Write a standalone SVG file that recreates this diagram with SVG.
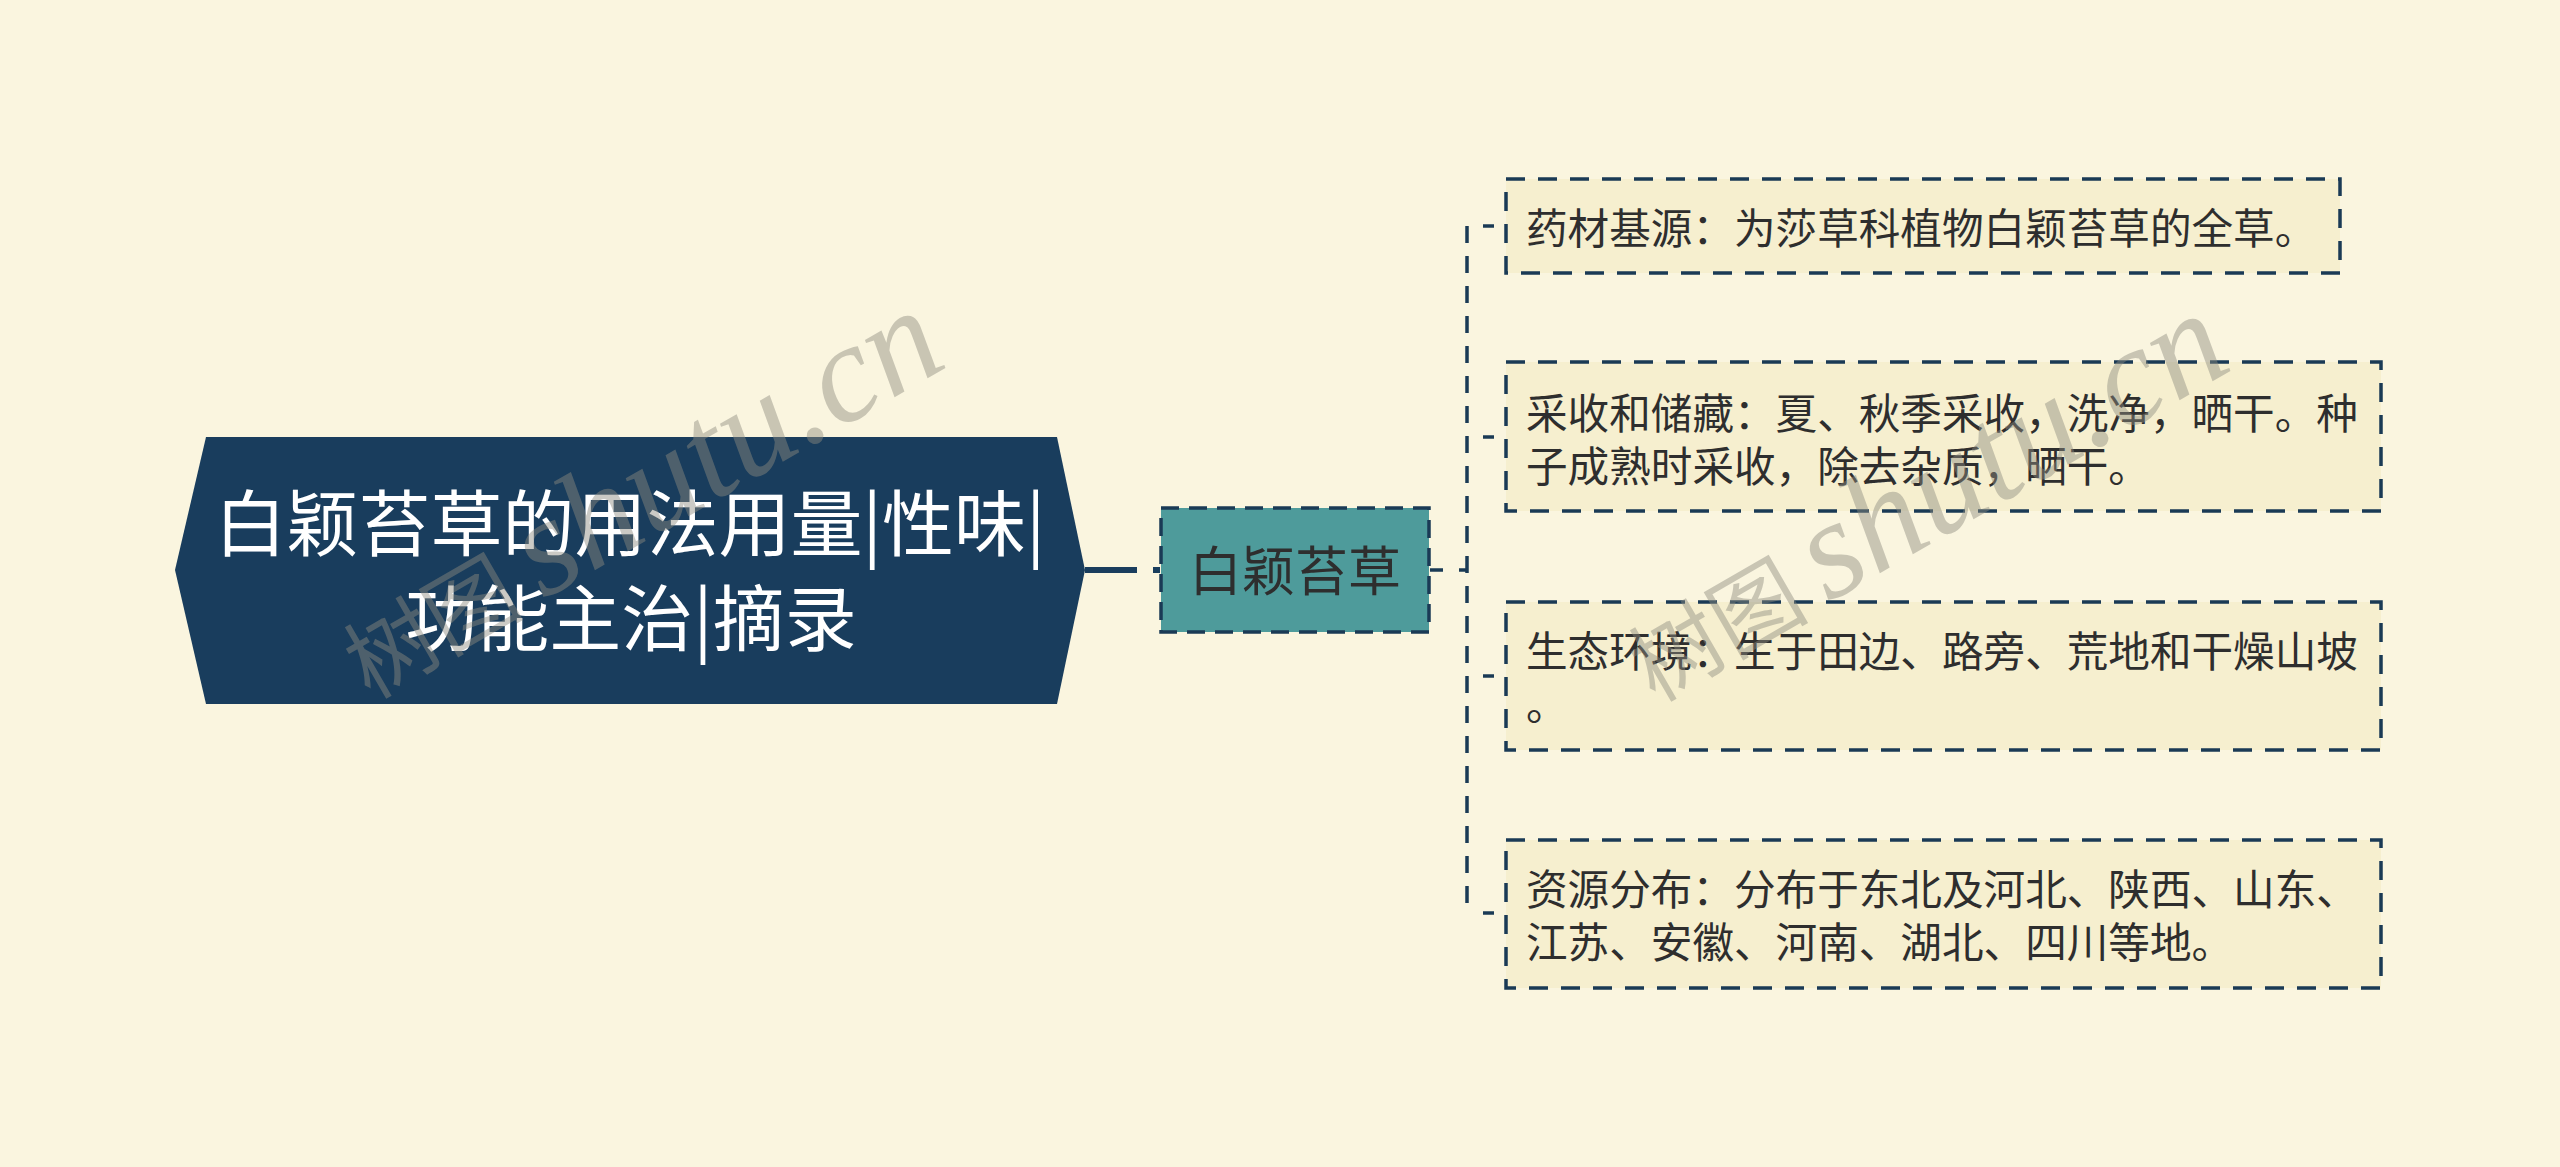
<svg xmlns="http://www.w3.org/2000/svg" width="2560" height="1167" viewBox="0 0 2560 1167">
<style>
.cjk{font-family:"Noto Sans CJK SC","Noto Sans",sans-serif}
.title{font-size:72px;fill:#FFFFFF;text-anchor:middle}
.sub{font-size:53px;fill:#2E2E2E;text-anchor:middle}
.leaf{font-size:41.6px;fill:#2E2E2E}
.box{fill:#F6EFCF;stroke:#1A3A55;stroke-width:3.5;stroke-dasharray:19 13}
.conn{fill:none;stroke:#1A3A55;stroke-width:3.5}
.wm{font-size:90px;fill:#8E8C80;opacity:0.45}
.wml{font-family:"Liberation Serif",serif;font-style:italic;font-size:140px}
</style>
<rect width="2560" height="1167" fill="#FAF5DF"/>
<g id="connectors">
<path d="M1085,570 H1160" fill="none" stroke="#193D5D" stroke-width="6" stroke-dasharray="52 16 10 100"/>
<path class="conn" d="M1430,570 H1467" stroke-dasharray="13 16"/>
<path class="conn" d="M1467,226 V913" stroke-dasharray="17 13"/>
<path class="conn" d="M1467,226 H1506" stroke-dasharray="11 28" stroke-dashoffset="23"/>
<path class="conn" d="M1467,437 H1506" stroke-dasharray="11 28" stroke-dashoffset="23"/>
<path class="conn" d="M1467,676 H1506" stroke-dasharray="11 28" stroke-dashoffset="23"/>
<path class="conn" d="M1467,913 H1506" stroke-dasharray="11 28" stroke-dashoffset="23"/>
</g>
<g id="root">
<polygon points="175,570 206,437 1057,437 1085,570 1057,704 206,704" fill="#193D5D"/>
<text class="cjk title" x="630" y="550">白颖苔草的用法用量|性味|</text>
<text class="cjk title" x="631" y="645">功能主治|摘录</text>
</g>
<g id="topic">
<rect x="1161" y="508" width="268" height="124" fill="#4E9B9B" stroke="#1A3A55" stroke-width="3.5" stroke-dasharray="18 10"/>
<text class="cjk sub" x="1295" y="591">白颖苔草</text>
</g>
<g id="leaf1">
<rect class="box" x="1506" y="179" width="834" height="94"/>
<text class="cjk leaf" x="1526" y="244">药材基源：为莎草科植物白颖苔草的全草。</text>
</g>
<g id="leaf2">
<rect class="box" x="1506" y="362" width="875" height="149"/>
<text class="cjk leaf" x="1526" y="429">采收和储藏：夏、秋季采收，洗净，晒干。种</text>
<text class="cjk leaf" x="1526" y="482">子成熟时采收，除去杂质，晒干。</text>
</g>
<g id="leaf3">
<rect class="box" x="1506" y="602" width="875" height="148"/>
<text class="cjk leaf" x="1526" y="667">生态环境：生于田边、路旁、荒地和干燥山坡</text>
<text class="cjk leaf" x="1526" y="720">。</text>
</g>
<g id="leaf4">
<rect class="box" x="1506" y="840" width="875" height="148"/>
<text class="cjk leaf" x="1526" y="905">资源分布：分布于东北及河北、陕西、山东、</text>
<text class="cjk leaf" x="1526" y="958">江苏、安徽、河南、湖北、四川等地。</text>
</g>
<g id="watermarks">
<text class="cjk wm" transform="translate(370,700) rotate(-30)">树图 <tspan class="wml">shutu.cn</tspan></text>
<text class="cjk wm" transform="translate(1655,703) rotate(-30)">树图 <tspan class="wml">shutu.cn</tspan></text>
</g>
</svg>
